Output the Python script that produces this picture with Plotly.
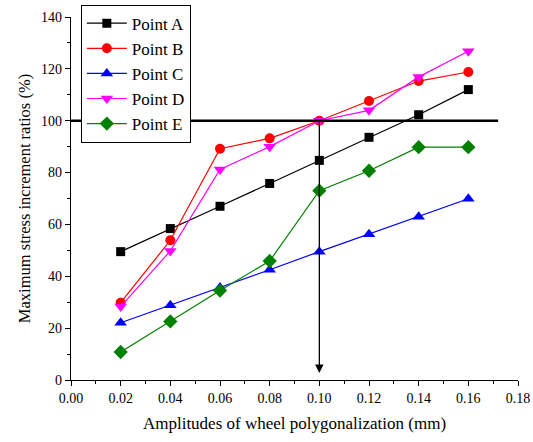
import plotly.graph_objects as go

amplitudes = [0.02, 0.04, 0.06, 0.08, 0.10, 0.12, 0.14, 0.16]
point_a = [49.5, 58.4, 67.0, 75.8, 84.7, 93.6, 102.3, 112.0]
point_b = [29.8, 53.9, 89.2, 93.2, 100.0, 107.6, 115.3, 118.8]
point_c = [22.1, 28.8, 35.7, 42.5, 49.5, 56.2, 63.0, 69.9]
point_d = [28.3, 49.8, 81.2, 90.0, 100.0, 104.0, 116.9, 126.8]
point_e = [10.8, 22.6, 34.5, 45.9, 73.0, 80.7, 89.8, 89.8]

series_names = ["Point A", "Point B", "Point C", "Point D", "Point E"]
series_values = [point_a, point_b, point_c, point_d, point_e]
colors = ["#000000", "#ff0000", "#0000ff", "#ff00ff", "#008000"]
symbols = ["square", "circle", "triangle-up", "triangle-down", "diamond"]
sizes = [9, 10, 11, 11, 11]

threshold = 100
threshold_end_x = 0.172
marker_x = 0.10
arrow_tip_y = 2.7

font_family = "Liberation Serif, Times New Roman, serif"

fig = go.Figure()
for name, vals, c, s, sz in zip(series_names, series_values, colors, symbols, sizes):
    fig.add_trace(go.Scatter(
        x=amplitudes, y=vals, name=name, mode="lines+markers",
        line=dict(color=c, width=1.2),
        marker=dict(color=c, symbol=s, size=sz, line=dict(width=0)),
        cliponaxis=False,
    ))

fig.add_shape(type="line", xref="x", yref="y", x0=0, x1=threshold_end_x,
              y0=threshold, y1=threshold, line=dict(color="black", width=2.5))
fig.add_annotation(x=marker_x, y=arrow_tip_y, ax=marker_x, ay=threshold,
                   xref="x", yref="y", axref="x", ayref="y",
                   showarrow=True, arrowhead=2, arrowsize=1.3, arrowwidth=1.3,
                   arrowcolor="black", text="")

axis_common = dict(
    showline=True, linecolor="black", linewidth=1.3, mirror=False,
    ticks="outside", ticklen=5, tickwidth=1.2, tickcolor="black",
    showgrid=False, zeroline=False, automargin=False,
    tickfont=dict(family=font_family, size=14, color="black"),
)

fig.update_xaxes(
    range=[0, 0.18], dtick=0.02, tick0=0, tickformat=".2f",
    minor=dict(dtick=0.01, ticks="outside", ticklen=3, tickwidth=1.2, tickcolor="black"),
    title=dict(text="Amplitudes of wheel polygonalization (mm)",
               font=dict(family=font_family, size=17, color="black"), standoff=12),
    **axis_common,
)
fig.update_yaxes(
    range=[0, 140], dtick=20, tick0=0,
    minor=dict(dtick=10, ticks="outside", ticklen=3, tickwidth=1.2, tickcolor="black"),
    title=dict(text="Maximum stress increment ratios (%)",
               font=dict(family=font_family, size=16.5, color="black"), standoff=6),
    **axis_common,
)

fig.update_layout(
    width=533, height=442,
    margin=dict(l=71, r=15, t=17, b=62, autoexpand=False),
    plot_bgcolor="white", paper_bgcolor="white",
    font=dict(family=font_family, color="black"),
    legend=dict(
        x=0.022, y=1.034, xanchor="left", yanchor="top",
        bgcolor="white", bordercolor="black", borderwidth=1,
        font=dict(family=font_family, size=17, color="black"),
        tracegroupgap=0, itemwidth=40,
    ),
    showlegend=True,
)

fig.write_html("out.html")
